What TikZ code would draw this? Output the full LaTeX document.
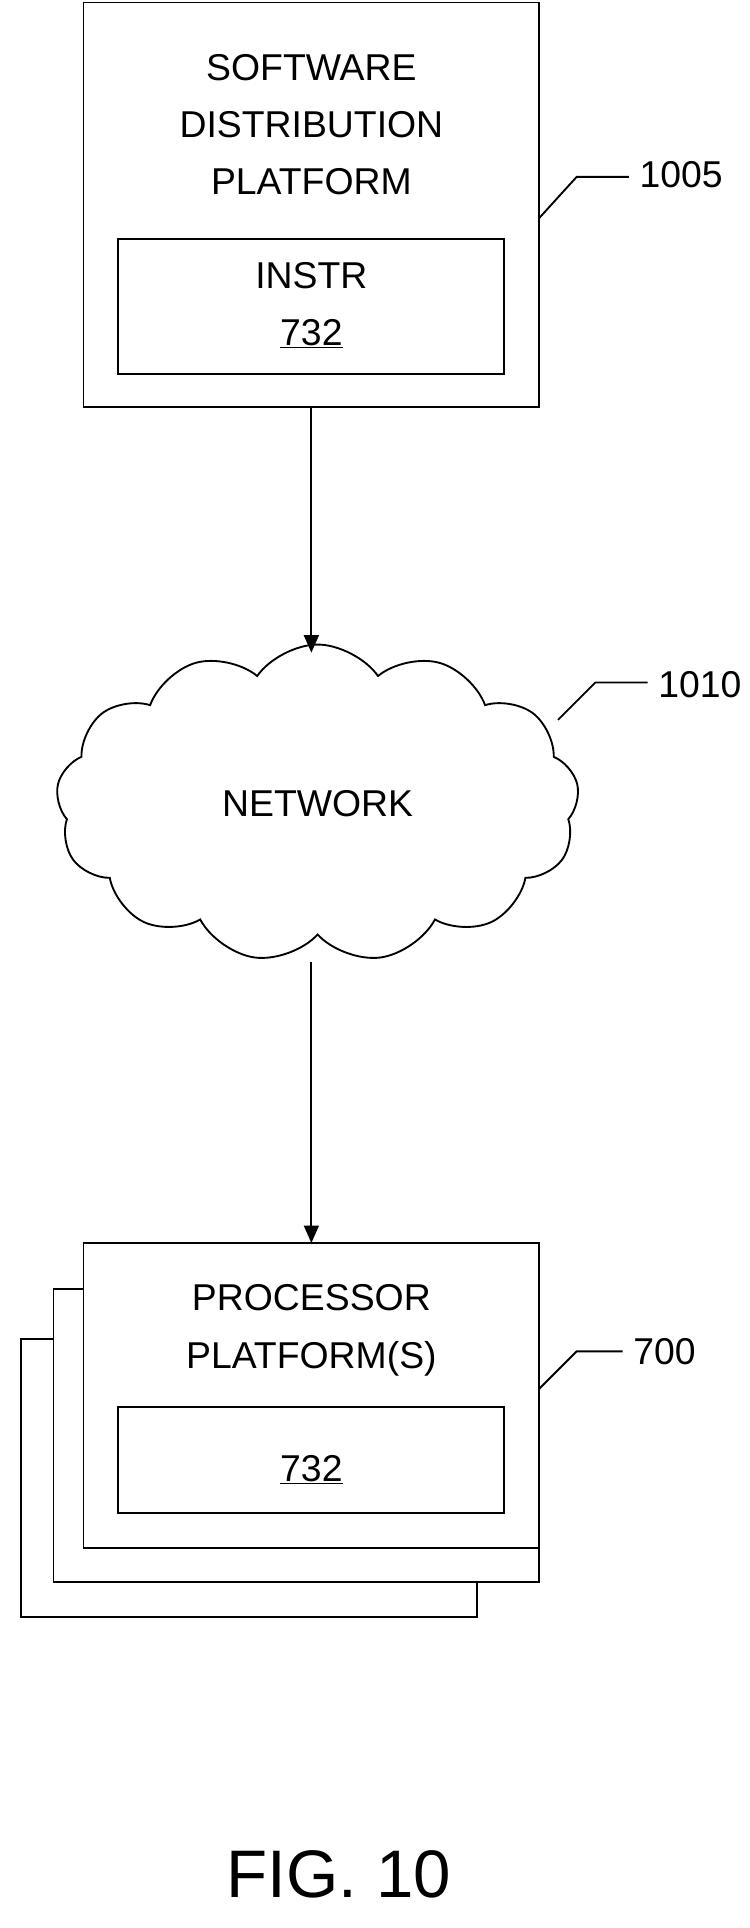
\documentclass[tikz,border=0pt]{standalone}
\usepackage{fontspec}
\setmainfont{Liberation Sans}
\usetikzlibrary{shapes.symbols,arrows.meta}
\tikzset{
  box/.style={draw, line width=1.5pt},
  lbl/.style={font=\fontsize{30}{46}\selectfont, align=center},
  lead/.style={line width=1.5pt},
  flow/.style={line width=1.5pt, -{Triangle[length=14pt,width=12pt]}}
}
\begin{document}
\begin{tikzpicture}[x=1pt, y=-1pt]
        \useasboundingbox (0, 0) rectangle (602, 1548);
        % software distribution platform
        \draw[box] (67, 2) rectangle (433, 327);
        \draw[box] (95, 192) rectangle (405, 300);
        \node[lbl] (sdp) at (250, 100) {SOFTWARE\\DISTRIBUTION\\PLATFORM};
        \node[lbl] (instr) at (250, 245) {INSTR\\\underline{732}};
        \coordinate (sdpB) at (250, 327);
        % network
        \node[cloud, draw, line width=1.5pt, cloud puffs=13, cloud puff arc=110,
              minimum width=420pt, minimum height=255pt, aspect=1.6] (net) at (255, 645) {};
        \node[lbl] (netl) at (255, 645) {NETWORK};
        \coordinate (netT) at (250, 524);
        \coordinate (netB) at (250, 772);
        % processor platforms
        \draw[box] (17, 1075) rectangle (383, 1298);
        \draw[box, fill=white] (43, 1035) rectangle (433, 1270);
        \draw[box, fill=white] (67, 998) rectangle (433, 1243);
        \draw[box] (95, 1130) rectangle (405, 1215);
        \node[lbl] (pp) at (250, 1068) {PROCESSOR\\PLATFORM(S)};
        \node[lbl] (code) at (250, 1180) {\underline{732}};
        \coordinate (ppT) at (250, 998);
        % arrows
        \draw[flow] (sdpB) -- (netT);
        \draw[flow] (netB) -- (ppT);
        % reference numerals
        \draw[lead] (433, 175) -- (463, 142) -- (505, 142);
        \node[lbl, anchor=west] (n1005) at (510, 140) {1005};
        \draw[lead] (448, 578) -- (478, 548) -- (520, 548);
        \node[lbl, anchor=west] (n1010) at (525, 550) {1010};
        \draw[lead] (433, 1115) -- (463, 1085) -- (500, 1085);
        \node[lbl, anchor=west] (n700) at (505, 1085) {700};
        \node[font=\fontsize{54}{58}\selectfont] (fig) at (272, 1505) {FIG. 10};
\end{tikzpicture}
\end{document}
